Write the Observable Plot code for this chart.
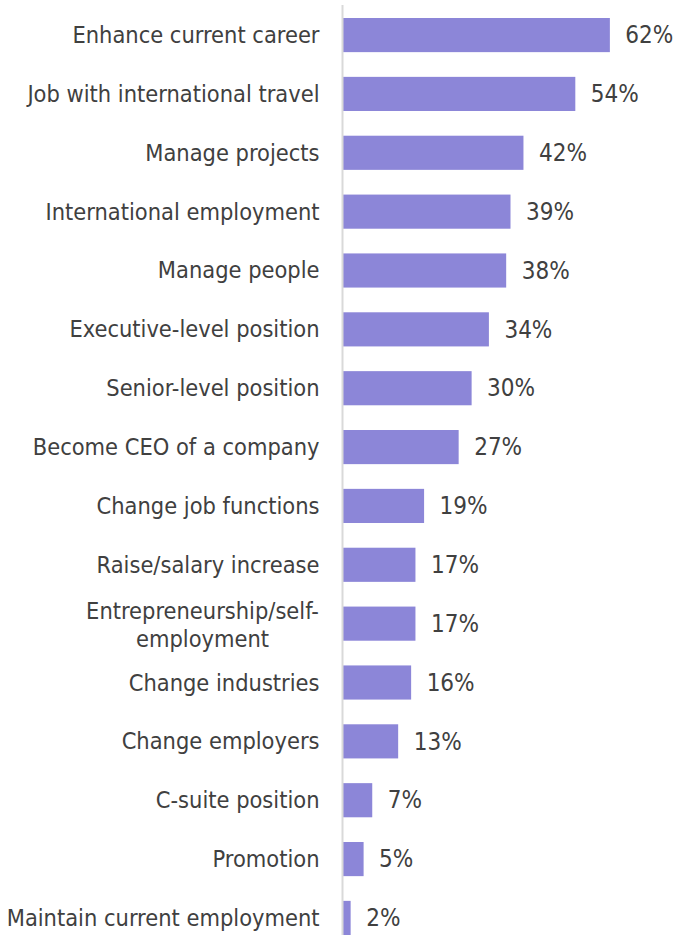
<!DOCTYPE html>
<html>
<head>
<meta charset="utf-8">
<script src="https://cdn.jsdelivr.net/npm/d3@7"></script>
<script src="https://cdn.jsdelivr.net/npm/@observablehq/plot@0.6"></script>
<style>
  html, body { margin: 0; padding: 0; background: #fff; }
  #chart svg { display: block; }
</style>
</head>
<body>
<div id="chart"></div>
<script>
const categories = [
  "Enhance current career",
  "Job with international travel",
  "Manage projects",
  "International employment",
  "Manage people",
  "Executive-level position",
  "Senior-level position",
  "Become CEO of a company",
  "Change job functions",
  "Raise/salary increase",
  "Entrepreneurship/self-\nemployment",
  "Change industries",
  "Change employers",
  "C-suite position",
  "Promotion",
  "Maintain current employment"
];
const values = [62, 54, 42, 39, 38, 34, 30, 27, 19, 17, 17, 16, 13, 7, 5, 2];

const data = categories.map((c, i) => ({category: c, value: values[i]}));
const wrapped = data.filter(d => d.category.includes("\n"));
const single = data.filter(d => !d.category.includes("\n"));

const font = "'DejaVu Sans Condensed', 'DejaVu Sans', sans-serif";
const textColor = "#404040";
const fs = 23.4;

const chart = Plot.plot({
  width: 679,
  height: 938,
  marginLeft: 342,
  marginRight: 0,
  marginTop: 18,
  marginBottom: 3,
  style: {fontFamily: font, fontStretch: "condensed", fontSize: fs + "px", color: textColor, background: "#fff"},
  x: {domain: [0, 78], axis: null},
  y: {domain: categories, paddingInner: 0.42, paddingOuter: 0, round: false, axis: null},
  marks: [
    Plot.barX(data, {x: "value", y: "category", fill: "#8c86d8"}),
    Plot.ruleX([0], {stroke: "#d9d9d9", strokeWidth: 2, insetTop: -13}),
    Plot.text(single, {x: 0, y: "category", text: "category", textAnchor: "end", dx: -23, fill: textColor, fontSize: fs}),
    Plot.text(wrapped, {x: 0, y: "category", text: "category", textAnchor: "middle", dx: -140, lineHeight: 1.17, fill: textColor, fontSize: fs}),
    Plot.text(data, {x: "value", y: "category", text: d => d.value + "%", textAnchor: "start", dx: 15, fill: textColor, fontSize: 24})
  ]
});
document.getElementById("chart").appendChild(chart);
</script>
</body>
</html>
